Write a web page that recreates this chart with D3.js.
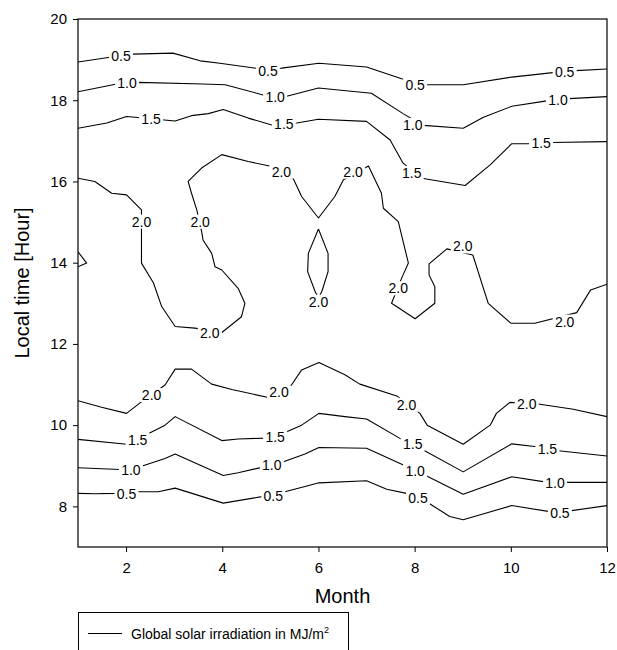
<!DOCTYPE html>
<html>
<head>
<meta charset="utf-8">
<script src="https://cdn.jsdelivr.net/npm/d3@7"></script>
<style>
body { margin: 0; background: #fff; }
text { font-family: "Liberation Sans", Arial, Helvetica, sans-serif; }
</style>
</head>
<body>
<svg id="paper"></svg>
<script>
// contour lines, [month, hour]
let eve05 = [[1, 18.94], [1.665, 19.06], [2.14, 19.135], [2.975, 19.16], [3.54, 18.97], [3.95, 18.91],
    [4.74, 18.78], [5.235, 18.79], [6.01, 18.91], [7.0, 18.82], [7.73, 18.53], [8.25, 18.38], [9.01, 18.38],
    [10.02, 18.57], [10.875, 18.68], [11.35, 18.73], [12, 18.77]];
let eve10 = [[1, 18.21], [1.805, 18.40], [2.25, 18.44], [3.6, 18.40], [4.06, 18.38], [4.85, 18.13],
    [5.32, 18.09], [6.0, 18.30], [7.1, 18.17], [7.76, 17.67], [8.18, 17.38], [9.01, 17.31], [9.43, 17.58],
    [10.02, 17.85], [10.78, 17.99], [11.21, 18.04], [12, 18.09]];
let eve15 = [[1, 17.31], [1.6, 17.44], [2.01, 17.60], [3.02, 17.49], [3.36, 17.62], [3.71, 17.67],
    [4.02, 17.77], [4.54, 17.56], [5.03, 17.39], [5.55, 17.44], [6.0, 17.53], [7.0, 17.48], [7.49, 17.02],
    [7.76, 16.45], [8.15, 16.08], [9.05, 15.90], [9.57, 16.41], [10.02, 16.93], [10.43, 16.93],
    [10.85, 16.96], [12, 16.98]];
let mid20 = [[1, 16.08], [1.35, 16.0], [1.7, 15.71], [2.01, 15.67], [2.32, 15.30], [2.32, 14.77],
    [2.32, 13.99], [2.57, 13.5], [2.74, 12.92], [3.02, 12.43], [3.43, 12.39], [3.99, 12.28], [4.40, 12.67],
    [4.47, 13.0], [4.33, 13.37], [3.99, 13.82], [3.85, 13.90], [3.78, 14.23], [3.60, 14.56], [3.57, 14.77],
    [3.47, 15.30], [3.36, 15.71], [3.29, 16.0], [3.57, 16.33], [3.99, 16.66], [4.54, 16.49], [5.03, 16.37],
    [5.48, 16.06], [5.65, 15.63], [6.0, 15.10], [6.34, 15.63], [6.52, 16.04], [7.04, 16.38], [7.31, 15.71],
    [7.35, 15.34], [7.66, 15.01], [7.87, 13.99], [7.73, 13.62], [7.52, 13.0], [8.01, 12.62], [8.42, 13.0],
    [8.42, 13.41], [8.30, 13.70], [8.30, 13.97], [8.67, 14.34], [9.21, 14.19], [9.53, 13.0], [10.0, 12.51],
    [10.5, 12.51], [11.37, 12.77], [11.66, 13.33], [12, 13.47]];
let edge20 = [[1, 14.27], [1.18, 13.99], [1, 13.90]];
let lens20 = [[6.0, 14.83], [5.79, 14.23], [5.775, 13.78], [5.93, 13.29], [6.0, 13.13], [6.07, 13.29],
    [6.20, 13.78], [6.20, 14.23], [6.0, 14.83]];
let morn20 = [[1, 10.60], [1.49, 10.44], [2.01, 10.29], [2.29, 10.55], [2.81, 10.99], [3.02, 11.38],
    [3.36, 11.38], [3.78, 11.01], [4.20, 10.88], [4.96, 10.68], [5.44, 10.99], [5.65, 11.36], [6.01, 11.54],
    [6.55, 11.24], [6.86, 11.01], [7.63, 10.72], [8.11, 10.29], [8.26, 10.0], [9.01, 9.53], [9.57, 10.0],
    [9.70, 10.29], [9.98, 10.56], [10.57, 10.52], [11.30, 10.39], [12, 10.21]];
let morn15 = [[1, 9.65], [2.01, 9.53], [2.48, 9.80], [2.81, 10.0], [3.02, 10.21], [3.99, 9.62], [4.33, 9.66],
    [4.89, 9.68], [5.34, 9.84], [5.65, 10.0], [6.01, 10.29], [6.55, 10.21], [7.0, 10.15], [7.73, 9.65],
    [8.18, 9.39], [9.01, 8.85], [10.02, 9.54], [10.54, 9.47], [10.99, 9.37], [12, 9.24]];
let morn10 = [[1, 8.95], [1.87, 8.91], [2.32, 8.99], [2.81, 9.18], [3.02, 9.29], [4.02, 8.76], [4.33, 8.83],
    [4.82, 8.96], [5.23, 9.08], [5.72, 9.29], [6.01, 9.45], [7.0, 9.43], [7.80, 9.0], [8.21, 8.77],
    [9.01, 8.30], [10.02, 8.73], [10.67, 8.61], [11.23, 8.59], [12, 8.59]];
let morn05 = [[1, 8.32], [1.35, 8.31], [1.77, 8.32], [2.25, 8.36], [2.67, 8.36], [3.02, 8.45], [4.02, 8.08],
    [4.82, 8.24], [5.30, 8.36], [5.72, 8.49], [6.01, 8.58], [7.0, 8.63], [7.42, 8.42], [7.83, 8.32],
    [8.32, 8.06], [8.73, 7.75], [9.01, 7.67], [10.02, 8.02], [10.81, 7.87], [11.23, 7.89], [12, 8.02]];

// where the level labels sit, [month, hour]
let labels05 = [[1.894, 19.09], [4.95, 18.72], [8.01, 18.38], [11.12, 18.70],
    [2.01, 8.31], [5.06, 8.26], [8.07, 8.21], [11.02, 7.83]];
let labels10 = [[2.02, 18.43], [5.10, 18.08], [7.96, 17.39], [10.98, 18.01],
    [2.10, 8.90], [5.03, 9.02], [8.01, 8.88], [10.92, 8.58]];
let labels15 = [[2.52, 17.54], [5.28, 17.42], [7.94, 16.21], [10.63, 16.95],
    [2.24, 9.64], [5.10, 9.72], [7.96, 9.53], [10.76, 9.41]];
let labels20 = [[2.32, 15.01], [3.74, 12.28], [3.54, 15.01], [5.23, 16.24], [6.72, 16.24],
    [6.0, 13.04], [7.66, 13.37], [9.0, 14.40], [11.12, 12.55],
    [2.53, 10.74], [5.18, 10.81], [7.83, 10.50], [10.33, 10.52]];

let monthTicks = [2, 4, 6, 8, 10, 12];
let hourTicks = [8, 10, 12, 14, 16, 18, 20];
let legendText = "Global solar irradiation in MJ/m";

let contours = [eve05, eve10, eve15, mid20, edge20, lens20, morn20, morn15, morn10, morn05];
let labels = [];
[[0.5, labels05], [1.0, labels10], [1.5, labels15], [2.0, labels20]].forEach(([lv, arr]) => {
    arr.forEach(p => labels.push({level: lv, m: p[0], h: p[1]}));
});

let margin = {top: 19, right: 10, bottom: 103, left: 78},
    width = 617 - margin.left - margin.right,
    height = 650 - margin.top - margin.bottom;

let svg = d3.select("#paper")
        .attr("width", width + margin.left + margin.right)
        .attr("height", height + margin.top + margin.bottom),
    g = svg.append("g")
        .attr("transform", "translate(" + margin.left + "," + margin.top + ")");

let x = d3.scaleLinear().domain([1, 12]).range([0, width]);
let y = d3.scaleLinear().domain([7, 20]).range([height, 0]);

g.append("clipPath").attr("id", "clip")
    .append("rect").attr("width", width).attr("height", height);

let line = d3.line()
    .x(d => x(d[0]))
    .y(d => y(d[1]));

let plot = g.append("g").attr("clip-path", "url(#clip)");

plot.selectAll(".contour")
    .data(contours)
    .enter()
    .append("path")
    .classed("contour", true)
    .attr("d", line)
    .attr("fill", "none")
    .attr("stroke", "#000")
    .attr("stroke-width", 1.1)
    .attr("stroke-linejoin", "round");

// labels cut the line: white box behind each
let fmt = d3.format(".1f");
let lab = plot.selectAll(".clabel")
    .data(labels)
    .enter()
    .append("g")
    .classed("clabel", true)
    .attr("transform", d => "translate(" + x(d.m) + "," + y(d.h) + ")");
lab.append("rect")
    .attr("x", -12)
    .attr("y", -7)
    .attr("width", 24)
    .attr("height", 14)
    .attr("fill", "#fff");
lab.append("text")
    .attr("text-anchor", "middle")
    .attr("dy", "0.36em")
    .style("font-size", "14px")
    .text(d => fmt(d.level));

// axes
let xAxis = g.append("g")
    .attr("transform", "translate(0," + height + ")")
    .call(d3.axisBottom(x).tickValues(monthTicks).tickSize(5).tickPadding(10));
let yAxis = g.append("g")
    .call(d3.axisLeft(y).tickValues(hourTicks).tickSize(5).tickPadding(6));
[xAxis, yAxis].forEach(a => {
    a.select(".domain").remove();
    a.selectAll("text")
        .style("font-size", "15px")
        .style("font-family", '"Liberation Sans", Arial, sans-serif')
        .attr("fill", "#000");
    a.selectAll("line").attr("stroke", "#000");
});

g.append("rect")
    .attr("width", width)
    .attr("height", height)
    .attr("fill", "none")
    .attr("stroke", "#000")
    .attr("stroke-width", 1.2);

svg.append("text")
    .attr("x", margin.left + width / 2)
    .attr("y", 603)
    .attr("text-anchor", "middle")
    .style("font-size", "20px")
    .text("Month");

svg.append("text")
    .attr("transform", "translate(29," + (margin.top + height / 2) + ") rotate(-90)")
    .attr("text-anchor", "middle")
    .style("font-size", "20px")
    .text("Local time [Hour]");

// legend
let leg = svg.append("g");
leg.append("rect")
    .attr("x", 78.5)
    .attr("y", 612.5)
    .attr("width", 270)
    .attr("height", 60)
    .attr("fill", "#fff")
    .attr("stroke", "#000");
leg.append("line")
    .attr("x1", 88)
    .attr("x2", 122)
    .attr("y1", 633.5)
    .attr("y2", 633.5)
    .attr("stroke", "#000")
    .attr("stroke-width", 1.1);
let lt = leg.append("text")
    .attr("x", 131)
    .attr("y", 639)
    .style("font-size", "14px")
    .text(legendText);
lt.append("tspan")
    .attr("dy", -6)
    .style("font-size", "9px")
    .text("2");
</script>
</body>
</html>
